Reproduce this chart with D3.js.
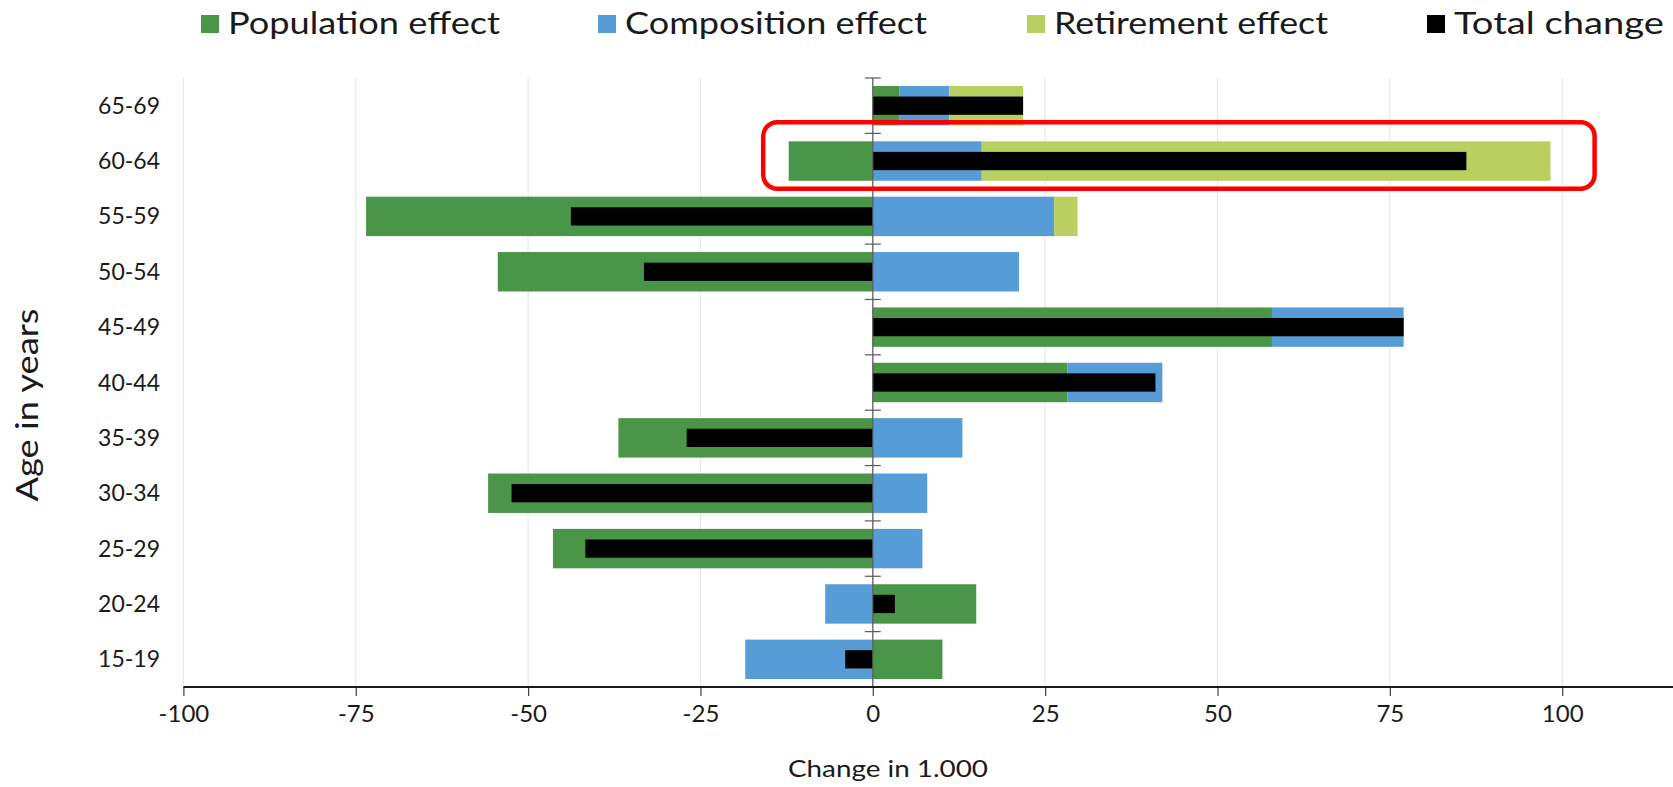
<!DOCTYPE html>
<html>
<head>
<meta charset="utf-8">
<script src="https://cdn.jsdelivr.net/npm/d3@7/dist/d3.min.js"></script>
<style>
  html, body { margin: 0; padding: 0; background: #fff; }
  svg { display: block; font-family: "Century Gothic", "URW Gothic", Lato, sans-serif; }
</style>
</head>
<body>
<svg id="chart" width="1673" height="787"></svg>
<script>
// Age groups, top to bottom
const categories = ["65-69", "60-64", "55-59", "50-54", "45-49", "40-44", "35-39", "30-34", "25-29", "20-24", "15-19"];
// Decomposition of the change (in 1.000)
const population  = [3.9, -12.2, -73.5, -54.4, 57.9, 28.2, -36.9, -55.8, -46.4, 15.0, 10.1];
const composition = [7.2, 15.8, 26.3, 21.2, 19.1, 13.8, 13.0, 7.9, 7.2, -6.9, -18.5];
const retirement  = [10.7, 82.5, 3.4, 0, 0, 0, 0, 0, 0, 0, 0];
const total       = [21.8, 86.1, -43.8, -33.2, 77.0, 41.0, -27.0, -52.4, -41.7, 3.2, -4.0];
const xTicks = [-100, -75, -50, -25, 0, 25, 50, 75, 100];
const seriesNames = ["Population effect", "Composition effect", "Retirement effect", "Total change"];
const highlighted = "60-64";

const colors = {
  "Population effect": "#4a9648",
  "Composition effect": "#569cd6",
  "Retirement effect": "#b9cf60",
  "Total change": "#000000"
};

const rows = categories.map((c, i) => ({
  cat: c,
  "Population effect": population[i],
  "Composition effect": composition[i],
  "Retirement effect": retirement[i],
  total: total[i]
}));

const svg = d3.select("#chart");
const W = 1673;
const plotTop = 78, plotBottom = 687;
const fontStack = "\"Century Gothic\", \"URW Gothic\", Lato, sans-serif";

const x = d3.scaleLinear().domain([-100, 100]).range([183.4, 1562.2]);
const y = d3.scaleBand().domain(categories).range([plotTop, plotBottom]).padding(0);
const bw = y.bandwidth();
const stackH = bw * 0.712;
const totalH = bw * 0.33;

// vertical gridlines
svg.append("g").selectAll("line").data(xTicks).join("line")
  .attr("x1", d => x(d)).attr("x2", d => x(d))
  .attr("y1", plotTop).attr("y2", plotBottom)
  .attr("stroke", "#e9e9e9").attr("stroke-width", 1.2);

// stacked effects
const keys = seriesNames.slice(0, 3);
const stacked = d3.stack().keys(keys).offset(d3.stackOffsetDiverging)(rows);
svg.append("g").selectAll("g").data(stacked).join("g")
  .attr("fill", s => colors[s.key])
  .selectAll("rect").data(s => s).join("rect")
  .attr("x", d => x(Math.min(d[0], d[1])))
  .attr("width", d => Math.abs(x(d[1]) - x(d[0])))
  .attr("y", d => y(d.data.cat) + (bw - stackH) / 2)
  .attr("height", stackH);

// total change
svg.append("g").selectAll("rect").data(rows).join("rect")
  .attr("fill", colors["Total change"])
  .attr("x", d => x(Math.min(0, d.total)))
  .attr("width", d => Math.abs(x(d.total) - x(0)))
  .attr("y", d => y(d.cat) + (bw - totalH) / 2)
  .attr("height", totalH);

// category axis at zero
svg.append("line")
  .attr("x1", x(0)).attr("x2", x(0)).attr("y1", plotTop).attr("y2", plotBottom)
  .attr("stroke", "#595959").attr("stroke-width", 1.2);
const boundaries = categories.map(c => y(c)).concat([plotBottom]);
svg.append("g").selectAll("line").data(boundaries).join("line")
  .attr("x1", x(0) - 8).attr("x2", x(0) + 8)
  .attr("y1", d => d).attr("y2", d => d)
  .attr("stroke", "#595959").attr("stroke-width", 1.2);

// category labels
svg.append("g").selectAll("text").data(categories).join("text")
  .attr("x", 160).attr("y", c => y(c) + bw / 2 + 8)
  .attr("text-anchor", "end")
  .attr("font-size", 23).attr("fill", "#1a1a1a")
  .text(c => c);

// value axis (plain hyphen for negatives)
const xAxis = d3.axisBottom(x).tickValues(xTicks).tickSize(9).tickPadding(9).tickFormat(d => String(d));
const gx = svg.append("g").attr("transform", `translate(0,${plotBottom})`).call(xAxis);
gx.select(".domain").remove();
gx.selectAll(".tick line").attr("stroke", "#404040").attr("stroke-width", 1.2);
gx.selectAll(".tick text").attr("font-size", 24).attr("fill", "#1a1a1a")
  .attr("font-family", fontStack);
svg.append("line")
  .attr("x1", x(-100)).attr("x2", W).attr("y1", plotBottom).attr("y2", plotBottom)
  .attr("stroke", "#1a1a1a").attr("stroke-width", 1.8);

// axis titles
svg.append("text")
  .attr("x", 888).attr("y", 777)
  .attr("text-anchor", "middle").attr("font-size", 24).attr("fill", "#1a1a1a")
  .attr("textLength", 200).attr("lengthAdjust", "spacingAndGlyphs")
  .text("Change in 1.000");
svg.append("text")
  .attr("transform", "translate(38,405) rotate(-90)")
  .attr("text-anchor", "middle").attr("font-size", 31).attr("fill", "#1a1a1a")
  .attr("textLength", 193).attr("lengthAdjust", "spacingAndGlyphs")
  .text("Age in years");

// legend
const legendX = [201, 598, 1027, 1427];
const legendTextW = [272, 302, 274, 210];
const lg = svg.append("g").selectAll("g").data(seriesNames).join("g")
  .attr("transform", (d, i) => `translate(${legendX[i]},0)`);
lg.append("rect").attr("x", 0).attr("y", 15).attr("width", 18).attr("height", 18)
  .attr("fill", d => colors[d]);
lg.append("text").attr("x", 27).attr("y", 33.5)
  .attr("font-size", 30).attr("fill", "#1a1a1a")
  .attr("textLength", (d, i) => legendTextW[i]).attr("lengthAdjust", "spacingAndGlyphs")
  .text(d => d);

// highlight around the 60-64 row
const hy = y(highlighted);
svg.append("rect")
  .attr("x", x(-15.9)).attr("y", hy - 11)
  .attr("width", x(104.7) - x(-15.9)).attr("height", bw + 11)
  .attr("rx", 14).attr("ry", 14)
  .attr("fill", "none").attr("stroke", "#ff0000").attr("stroke-width", 4.5);
</script>
</body>
</html>
